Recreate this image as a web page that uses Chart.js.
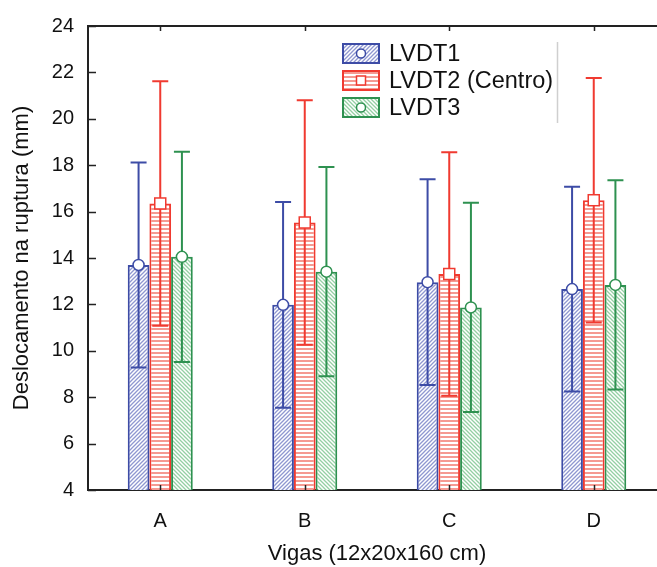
<!DOCTYPE html>
<html><head><meta charset="utf-8">
<script src="https://cdn.jsdelivr.net/npm/chart.js@4"></script>
<style>
html,body{margin:0;padding:0;overflow:hidden;background:#fff;width:657px;height:567px}
#wrap{width:680px;height:567px;position:relative}
</style></head>
<body><div id="wrap"><canvas id="c" width="680" height="567"></canvas></div>
<script>
const categories = ['A', 'B', 'C', 'D'];
const seriesNames = ['LVDT1', 'LVDT2 (Centro)', 'LVDT3'];
const lvdt1Mean = [13.70, 11.98, 12.96, 12.66];
const lvdt1Err  = [4.42, 4.43, 4.43, 4.41];
const lvdt2Mean = [16.35, 15.53, 13.31, 16.49];
const lvdt2Err  = [5.27, 5.27, 5.25, 5.27];
const lvdt3Mean = [14.05, 13.41, 11.87, 12.84];
const lvdt3Err  = [4.53, 4.51, 4.51, 4.51];
const yTicks = [4, 6, 8, 10, 12, 14, 16, 18, 20, 22, 24];
const xTitle = 'Vigas (12x20x160 cm)';
const yTitle = 'Deslocamento na ruptura (mm)';

const FONT = '"Liberation Sans", Arial, sans-serif';
const borderCols = ['#3d4ca6', '#f03a30', '#2e9150'];
const hatchCols = ['#8f97d0', '#f59a92', '#94cfa3'];
const markerKinds = ['circle', 'square', 'circle'];

function makePattern(kind, col) {
  const s = 4;
  const c = document.createElement('canvas');
  c.width = s; c.height = s;
  const g = c.getContext('2d');
  g.fillStyle = '#fff'; g.fillRect(0, 0, s, s);
  g.strokeStyle = col; g.fillStyle = col; g.lineWidth = 1.3;
  if (kind === 'h') {
    g.fillRect(0, 0, s, 2);
  } else if (kind === 'f') {
    g.beginPath();
    g.moveTo(-1, s + 1); g.lineTo(s + 1, -1);
    g.moveTo(-1, 1); g.lineTo(1, -1);
    g.moveTo(s - 1, s + 1); g.lineTo(s + 1, s - 1);
    g.stroke();
  } else {
    g.beginPath();
    g.moveTo(-1, -1); g.lineTo(s + 1, s + 1);
    g.moveTo(s - 1, -1); g.lineTo(s + 1, 1);
    g.moveTo(-1, s - 1); g.lineTo(1, s + 1);
    g.stroke();
  }
  return c;
}
const ctx0 = document.getElementById('c').getContext('2d');
const patterns = [
  ctx0.createPattern(makePattern('f', hatchCols[0]), 'repeat'),
  ctx0.createPattern(makePattern('h', hatchCols[1]), 'repeat'),
  ctx0.createPattern(makePattern('b', hatchCols[2]), 'repeat')
];
const means = [lvdt1Mean, lvdt2Mean, lvdt3Mean];
const errs = [lvdt1Err, lvdt2Err, lvdt3Err];

function drawMarker(ctx, kind, x, y, col, r) {
  ctx.save();
  ctx.fillStyle = '#fff';
  ctx.strokeStyle = col;
  ctx.lineWidth = 1.5;
  if (kind === 'circle') {
    ctx.beginPath(); ctx.arc(x, y, r, 0, Math.PI * 2); ctx.fill(); ctx.stroke();
  } else {
    ctx.fillRect(x - r, y - r, 2 * r, 2 * r); ctx.strokeRect(x - r, y - r, 2 * r, 2 * r);
  }
  ctx.restore();
}

const extras = {
  id: 'extras',
  afterDatasetsDraw(chart) {
    const ctx = chart.ctx;
    const ys = chart.scales.y, xs = chart.scales.x;
    const ca = chart.chartArea;
    // error bars
    chart.data.datasets.forEach((ds, i) => {
      const meta = chart.getDatasetMeta(i);
      meta.data.forEach((el, j) => {
        const m = means[i][j], e = errs[i][j];
        const yt = ys.getPixelForValue(m + e), yb = ys.getPixelForValue(m - e);
        ctx.save();
        ctx.strokeStyle = borderCols[i];
        ctx.lineWidth = 2;
        ctx.beginPath();
        ctx.moveTo(el.x, yb); ctx.lineTo(el.x, yt);
        ctx.moveTo(el.x - 8, yt); ctx.lineTo(el.x + 8, yt);
        ctx.moveTo(el.x - 8, yb); ctx.lineTo(el.x + 8, yb);
        ctx.stroke();
        ctx.restore();
      });
    });
    chart.data.datasets.forEach((ds, i) => {
      chart.getDatasetMeta(i).data.forEach((el) => drawMarker(ctx, markerKinds[i], el.x, el.y, borderCols[i], 5.5));
    });
    // frame & ticks
    ctx.save();
    ctx.strokeStyle = '#222';
    ctx.lineWidth = 2;
    ctx.beginPath();
    ctx.moveTo(ca.left, ca.top); ctx.lineTo(ca.right, ca.top); ctx.lineTo(ca.right, ca.bottom);
    ctx.stroke();
    ctx.lineWidth = 1.5;
    ctx.beginPath();
    yTicks.forEach(v => {
      const py = Math.round(ys.getPixelForValue(v)) + 0.5;
      ctx.moveTo(ca.left, py); ctx.lineTo(ca.left + 8, py);
    });
    categories.forEach((c, j) => {
      const px = Math.round(xs.getPixelForValue(j)) + 0.5;
      ctx.moveTo(px, ca.bottom); ctx.lineTo(px, ca.bottom - 5);
      ctx.moveTo(px, ca.top); ctx.lineTo(px, ca.top + 5);
    });
    ctx.stroke();
    ctx.restore();
    // legend
    ctx.save();
    const lx = 343, ly0 = 44, dy = 27, bw = 36, bh = 19;
    seriesNames.forEach((name, i) => {
      const y = ly0 + i * dy;
      ctx.fillStyle = patterns[i];
      ctx.fillRect(lx, y, bw, bh);
      ctx.strokeStyle = borderCols[i];
      ctx.lineWidth = 2;
      ctx.strokeRect(lx, y, bw, bh);
      drawMarker(ctx, markerKinds[i], lx + bw / 2, y + bh / 2, borderCols[i], 4.5);
      ctx.fillStyle = '#111';
      ctx.font = '23.5px ' + FONT;
      ctx.textBaseline = 'middle';
      ctx.textAlign = 'left';
      ctx.fillText(name, 389, y + bh / 2 + 1);
    });
    ctx.strokeStyle = '#cfcfcf';
    ctx.lineWidth = 1.5;
    ctx.beginPath(); ctx.moveTo(557.5, 42); ctx.lineTo(557.5, 123); ctx.stroke();
    ctx.restore();
  }
};

new Chart(document.getElementById('c'), {
  type: 'bar',
  data: {
    labels: categories,
    datasets: seriesNames.map((n, i) => ({
      label: n,
      data: means[i],
      backgroundColor: patterns[i],
      borderColor: borderCols[i],
      borderWidth: 2,
      borderSkipped: 'start',
      categoryPercentage: 0.45,
      barPercentage: 1.0
    }))
  },
  options: {
    responsive: false,
    devicePixelRatio: 1,
    animation: false,
    layout: { padding: { top: 25, right: 14, left: 0, bottom: 0 } },
    plugins: { legend: { display: false }, tooltip: { enabled: false } },
    scales: {
      x: {
        grid: { display: false, drawTicks: false },
        border: { display: true, color: '#222', width: 2 },
        ticks: { font: { family: FONT, size: 20 }, color: '#111', padding: 19 },
        title: { display: true, text: xTitle, font: { family: FONT, size: 22 }, color: '#111', padding: { top: 0, bottom: 0 } },
        afterFit(s) { s.height = 77; }
      },
      y: {
        min: 4, max: 24,
        grid: { display: false, drawTicks: false },
        border: { display: true, color: '#222', width: 2 },
        afterBuildTicks(s) { s.ticks = yTicks.map(v => ({ value: v })); },
        ticks: { font: { family: FONT, size: 20 }, color: '#111', padding: 14 },
        title: { display: true, text: yTitle, font: { family: FONT, size: 22 }, color: '#111', padding: { top: 9, bottom: 0 } },
        afterFit(s) { s.width = 88; }
      }
    }
  },
  plugins: [extras]
});
</script>
</body></html>
